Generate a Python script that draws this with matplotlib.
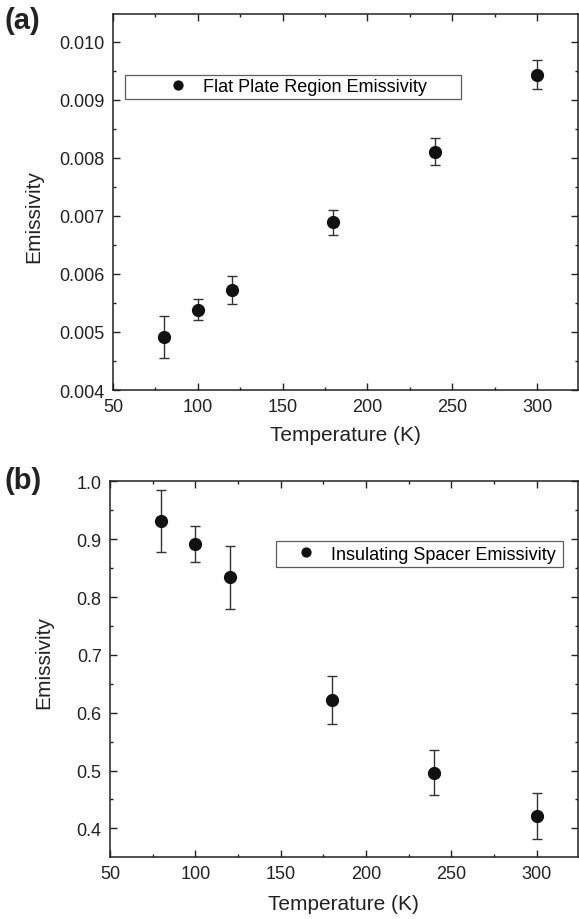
import matplotlib
matplotlib.use("Agg")
import matplotlib.pyplot as plt
import numpy as np
from matplotlib.ticker import MultipleLocator, FormatStrFormatter

plt.rcParams['font.family'] = ['Liberation Sans', 'DejaVu Sans']

# temperatures (K)
temp = [80, 100, 120, 180, 240, 300]

# (a) flat plate region
flat_em = [0.00491, 0.00538, 0.00573, 0.00689, 0.00811, 0.00943]
flat_err = [0.00036, 0.00018, 0.00024, 0.00022, 0.00024, 0.00025]

# (b) insulating spacer
spacer_em = [0.931, 0.892, 0.834, 0.622, 0.496, 0.422]
spacer_err = [0.054, 0.031, 0.054, 0.041, 0.039, 0.040]

fig = plt.figure(figsize=(5.79, 9.20), dpi=100)
ax1 = fig.add_axes([0.195, 0.575, 0.803, 0.4087])
ax2 = fig.add_axes([0.190, 0.0677, 0.808, 0.408])


def style(ax):
    ax.tick_params(which='both', direction='in', top=True, right=True,
                   labelsize=13, colors='#222222', width=1.0)
    ax.tick_params(which='major', length=5)
    ax.tick_params(which='minor', length=2.5)
    ax.tick_params(axis='x', pad=6)
    ax.tick_params(axis='y', pad=6)
    for s in ax.spines.values():
        s.set_linewidth(1.1)
        s.set_color('#222222')
    ax.xaxis.set_major_locator(MultipleLocator(50))
    ax.xaxis.set_minor_locator(MultipleLocator(25))
    ax.set_xlim(50, 324)


# panel a
ax1.errorbar(temp, flat_em, yerr=flat_err, fmt='none', ecolor='#333333',
             elinewidth=1.0, capsize=3.5, capthick=1.0)
ax1.plot(temp, flat_em, 'o', color='#111111', markersize=8.5,
         label='Flat Plate Region Emissivity')
style(ax1)
ax1.set_ylim(0.004, 0.01048)
ax1.yaxis.set_major_locator(MultipleLocator(0.001))
ax1.yaxis.set_minor_locator(MultipleLocator(0.0005))
ax1.yaxis.set_major_formatter(FormatStrFormatter('%.3f'))
ax1.set_xlabel('Temperature (K)', fontsize=15, color='#222222')
ax1.set_ylabel('Emissivity', fontsize=15, color='#222222')
ax1.xaxis.set_label_coords(0.5, -0.094)
ax1.yaxis.set_label_coords(-0.15, 0.463)
leg1 = ax1.legend(loc='upper left', bbox_to_anchor=(0.027, 0.771, 0.721, 0.068),
                  mode='expand', fontsize=13, frameon=True, fancybox=False,
                  handlelength=5.47, handletextpad=-1.35, borderpad=0.2,
                  borderaxespad=0, markerscale=0.75)
leg1.get_frame().set_edgecolor('#333333')
leg1.get_frame().set_linewidth(0.9)

# panel b
ax2.errorbar(temp, spacer_em, yerr=spacer_err, fmt='none', ecolor='#333333',
             elinewidth=1.0, capsize=3.5, capthick=1.0)
ax2.plot(temp, spacer_em, 'o', color='#111111', markersize=8.5,
         label='Insulating Spacer Emissivity')
style(ax2)
ax2.set_ylim(0.351, 1.0)
ax2.yaxis.set_major_locator(MultipleLocator(0.1))
ax2.yaxis.set_minor_locator(MultipleLocator(0.05))
ax2.yaxis.set_major_formatter(FormatStrFormatter('%.1f'))
ax2.set_xlabel('Temperature (K)', fontsize=15, color='#222222')
ax2.set_ylabel('Emissivity', fontsize=15, color='#222222')
ax2.xaxis.set_label_coords(0.5, -0.100)
ax2.yaxis.set_label_coords(-0.122, 0.52)
leg2 = ax2.legend(loc='upper left', bbox_to_anchor=(0.355, 0.763, 0.614, 0.078),
                  mode='expand', fontsize=13, frameon=True, fancybox=False,
                  handlelength=2.81, handletextpad=0.0, borderpad=0.25,
                  borderaxespad=0, markerscale=0.75)
leg2.get_frame().set_edgecolor('#333333')
leg2.get_frame().set_linewidth(0.9)

fig.text(0.008, 0.992, '(a)', fontsize=21, fontweight='bold', va='top', color='#222222')
fig.text(0.008, 0.492, '(b)', fontsize=21, fontweight='bold', va='top', color='#222222')

fig.savefig('out.png', dpi=100)
